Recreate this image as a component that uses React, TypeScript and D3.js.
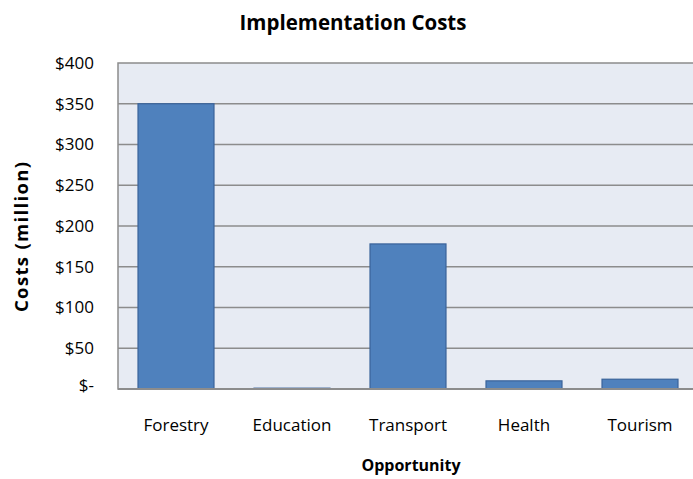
import React from "react";
import * as d3 from "d3";

const categories = ["Forestry", "Education", "Transport", "Health", "Tourism"];
const costs = [350, 1, 178, 10, 12];
const yTicks = [0, 50, 100, 150, 200, 250, 300, 350, 400];

const W = 693;
const H = 479;
const plot = { left: 118, top: 63, right: 698, bottom: 389 };
const FONT = "'Open Sans', sans-serif";

const fmt = (v: number) => (v === 0 ? "$-" : `$${v}`);

export default function App() {
  const x = d3
    .scaleBand<string>()
    .domain(categories)
    .range([plot.left, plot.right])
    .paddingInner(0.345)
    .paddingOuter(0.1725);
  const y = d3.scaleLinear().domain([0, 400]).range([plot.bottom, plot.top]);

  return (
    <svg
      width={W}
      height={H}
      style={{ position: "absolute", left: 0, top: 0, background: "#fff" }}
      fontFamily={FONT}
    >
      <rect
        x={plot.left}
        y={plot.top}
        width={plot.right - plot.left}
        height={plot.bottom - plot.top}
        fill="#E7EBF3"
        stroke="#8C8C8C"
        strokeWidth={1.5}
      />
      {yTicks.map((t) => (
        <g key={t}>
          {t > 0 && t < 400 && (
            <line
              x1={plot.left}
              x2={plot.right}
              y1={y(t)}
              y2={y(t)}
              stroke="#8C8C8C"
              strokeWidth={1.5}
            />
          )}
          <text
            x={94}
            y={y(t)}
            dy={t === 0 ? "0.1em" : "0.35em"}
            textAnchor="end"
            fontSize={17}
            fill="#000"
          >
            {fmt(t)}
          </text>
        </g>
      ))}
      {categories.map((c, i) => (
        <rect
          key={c}
          x={x(c)}
          y={y(costs[i])}
          width={x.bandwidth()}
          height={Math.max(0, y(0) - y(costs[i]))}
          fill="#4F81BD"
          stroke="#3A639A"
          strokeWidth={1.2}
        />
      ))}
      <line
        x1={plot.left}
        x2={plot.right}
        y1={plot.bottom}
        y2={plot.bottom}
        stroke="#8C8C8C"
        strokeWidth={2}
      />
      {categories.map((c) => (
        <text
          key={c}
          x={(x(c) as number) + x.bandwidth() / 2}
          y={431}
          textAnchor="middle"
          fontSize={17}
          fill="#000"
        >
          {c}
        </text>
      ))}
      <text
        x={353}
        y={30}
        textAnchor="middle"
        fontSize={20.5}
        fontWeight="bold"
        fill="#000"
      >
        Implementation Costs
      </text>
      <text
        x={411}
        y={471}
        textAnchor="middle"
        fontSize={16}
        fontWeight="bold"
        fill="#000"
      >
        Opportunity
      </text>
      <text
        transform={`translate(28,237) rotate(-90)`}
        textAnchor="middle"
        fontSize={18.5}
        fontWeight="bold"
        fill="#000"
        textLength={150}
        lengthAdjust="spacing"
      >
        Costs (million)
      </text>
    </svg>
  );
}
